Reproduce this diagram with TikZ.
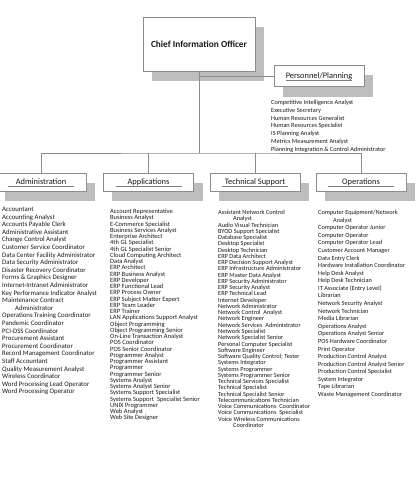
\documentclass[tikz,border=0pt]{standalone}
\usepackage{fontspec}
\setmainfont{Carlito}
\usetikzlibrary{backgrounds}

\begin{document}
\begin{tikzpicture}[x=1pt,y=-1pt]
    \tikzstyle{box} = [rectangle, draw=black!45, fill=white, inner sep=0pt, text=black!90]
    \tikzstyle{office} = [box, minimum width=112pt, minimum height=54pt, font=\fontsize{9.3}{11}\selectfont\bfseries]
    \tikzstyle{unit} = [box, minimum width=90pt, minimum height=18pt, font=\fontsize{8.4}{10}\selectfont, path picture={\draw[black!50] ([xshift=12pt,yshift=-4.5pt]path picture bounding box.west) -- ([xshift=-12pt,yshift=-4.5pt]path picture bounding box.east);}]
    \tikzstyle{jobs} = [anchor=north west, align=left, inner sep=0pt, text=black!90]
    \tikzstyle{shade} = [fill=black!26]
    \tikzstyle{link} = [draw=black!45, line width=0.7pt]

    \useasboundingbox (0,0) rectangle (416,478);

    \node [office] (cio) at (199,44) {Chief Information Officer};
    \node [unit, minimum height=21pt] (pers) at (319,76) {Personnel/Planning};

    \node [unit] (admin) at (41,182) {Administration};
    \node [unit] (apps) at (148.5,182) {Applications};
    \node [unit] (tech) at (255,182) {Technical Support};
    \node [unit] (ops) at (361,182) {Operations};

    % shadows behind the boxes
    \begin{scope}[on background layer]
        \foreach \n in {cio,pers,admin,apps,tech,ops}
            \fill [shade] ([xshift=9pt,yshift=-10pt]\n.south west) rectangle ([xshift=9pt,yshift=-10pt]\n.north east);
    \end{scope}

    \coordinate (bus) at (199,153);
    \draw [link] (cio.south) -- (bus);
    \draw [link] (admin.north) |- (bus) -| (ops.north);
    \draw [link] (apps.north) -- (apps.north |- bus);
    \draw [link] (tech.north) -- (tech.north |- bus);
    \draw [link] (cio.south |- pers.west) -- (pers.west);

    % job lists under each box
    \node [jobs, font=\fontsize{6.3}{7.8}\selectfont] (persjobs) at (271,100) {Competitive Intelligence Analyst\\Executive Secretary\\Human Resources Generalist\\Human Resources Specialist\\IS Planning Analyst\\Metrics Measurement Analyst\\Planning Integration \& Control Administrator};

    \node [jobs, font=\fontsize{6.8}{7.6}\selectfont] (adminjobs) at (2,207) {Accountant\\Accounting Analyst\\Accounts Payable Clerk\\Administrative Assistant\\Change Control Analyst\\Customer Service Coordinator\\Data Center Facility Administrator\\Data Security Administrator\\Disaster Recovery Coordinator\\Forms \& Graphics Designer\\Internet-Intranet Administrator\\Key Performance Indicator Analyst\\Maintenance Contract\\\hspace*{13pt}Administrator\\Operations Training Coordinator\\Pandemic Coordinator\\PCI-DSS Coordinator\\Procurement Assistant\\Procurement Coordinator\\Record Management Coordinator\\Staff Accountant\\Quality Measurement Analyst\\Wireless Coordinator\\Word Processing Lead Operator\\Word Processing Operator};

    \node [jobs, font=\fontsize{6.5}{6.25}\selectfont] (appsjobs) at (110,209) {Account Representative\\Business Analyst\\E-Commerce Specialist\\Business Services Analyst\\Enterprise Architect\\4th GL Specialist\\4th GL Specialist Senior\\Cloud Computing Architect\\Data Analyst\\ERP Architect\\ERP Business Analyst\\ERP Developer\\ERP Functional Lead\\ERP Process Owner\\ERP Subject Matter Expert\\ERP Team Leader\\ERP Trainer\\LAN Applications Support Analyst\\Object Programming\\Object Programming Senior\\On-Line Transaction Analyst\\POS Coordinator\\POS Senior Coordinator\\Programmer Analyst\\Programmer Assistant\\Programmer\\Programmer Senior\\Systems Analyst\\Systems Analyst Senior\\Systems Support Specialist\\Systems Support\ \ Specialist Senior\\UNIX Programmer\\Web Analyst\\Web Site Designer};

    \node [jobs, font=\fontsize{6.3}{6.26}\selectfont] (techjobs) at (218,210) {Assistant Network Control\\\hspace*{15pt}Analyst\\Audio Visual Technician\\BYOD Support Specialist\\Database Specialist\\Desktop Specialist\\Desktop Technician\\ERP Data Architect\\ERP Decision Support Analyst\\ERP Infrastructure Administrator\\ERP Master Data Analyst\\ERP Security Administrator\\ERP Security Analyst\\ERP Technical Lead\\Internet Developer\\Network Administrator\\Network Control\ \ Analyst\\Network Engineer\\Network Services\ \ Administrator\\Network Specialist\\Network Specialist Senior\\Personal Computer Specialist\\Software Engineer\\Software Quality Control; Tester\\Systems Integrator\\Systems Programmer\\Systems Programmer Senior\\Technical Services Specialist\\Technical Specialist\\Technical Specialist Senior\\Telecommunications Technician\\Voice Communications\ \ Coordinator\\Voice Communications\ \ Specialist\\Voice Wireless Communications\\\hspace*{15pt}Coordinator};

    \node [jobs, font=\fontsize{6.3}{7.58}\selectfont] (opsjobs) at (318,210) {Computer Equipment/Network\\\hspace*{15pt}Analyst\\Computer Operator Junior\\Computer Operator\\Computer Operator Lead\\Customer Account Manager\\Data Entry Clerk\\Hardware Installation Coordinator\\Help Desk Analyst\\Help Desk Technician\\IT Associate (Entry Level)\\Librarian\\Network Security Analyst\\Network Technician\\Media Librarian\\Operations Analyst\\Operations Analyst Senior\\POS Hardware Coordinator\\Print Operator\\Production Control Analyst\\Production Control Analyst Senior\\Production Control Specialist\\System Integrator\\Tape Librarian\\Waste Management Coordinator};
\end{tikzpicture}
\end{document}
